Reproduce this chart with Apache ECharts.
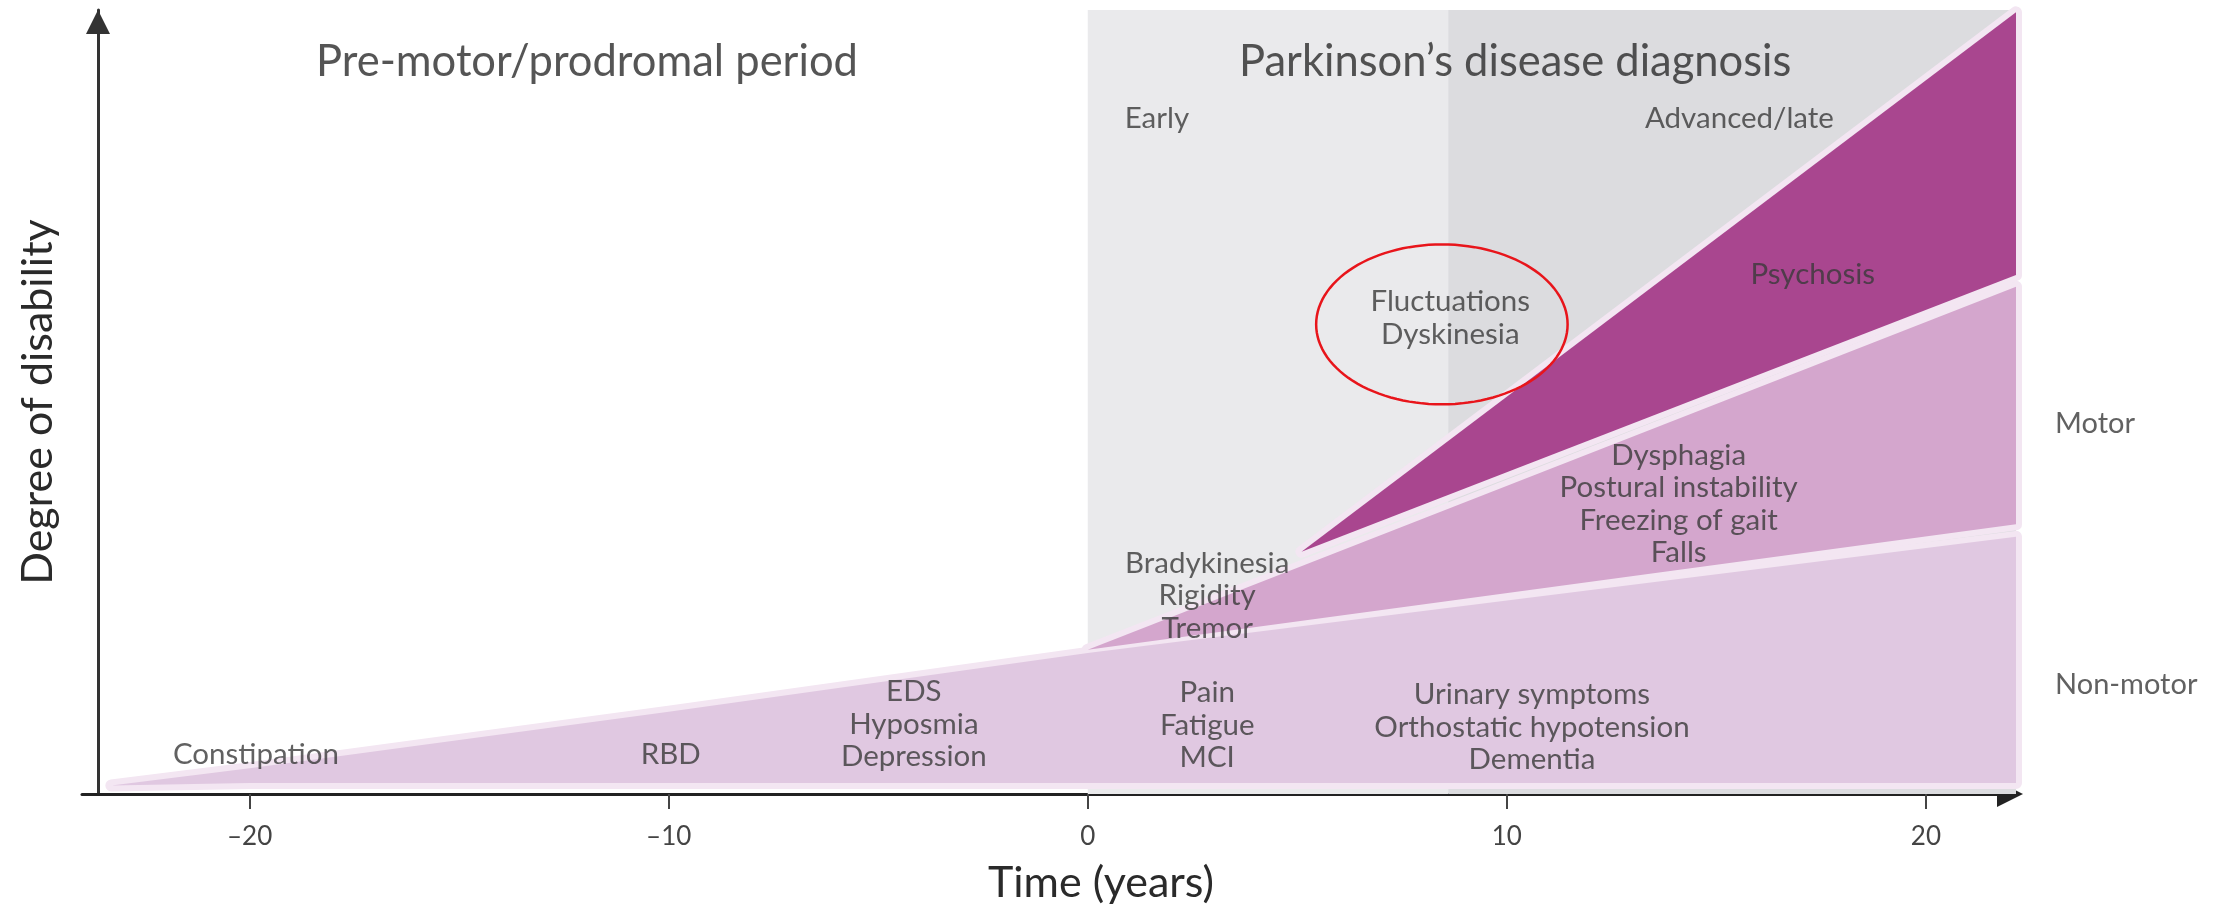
<!DOCTYPE html>
<html>
<head>
<meta charset="utf-8">
<script src="https://cdn.jsdelivr.net/npm/echarts@6/dist/echarts.min.js"></script>
<style>
  html, body { margin: 0; padding: 0; background: #fff; }
  #chart { width: 2224px; height: 911px; }
</style>
</head>
<body>
<div id="chart"></div>
<script>
// x = years from diagnosis, y = degree of disability (0-100)
var tickYears = [-20, -10, 0, 10, 20];

// disease stages shaded behind the bands
var stageNames = ['Early', 'Advanced/late'];
var stageFrom = [0, 8.6];
var stageTo = [8.6, 22.15];

// symptom bands: years with lower and upper edge
var nonMotorYears = [-23.3, -20, -10, 0, 22.15];
var nonMotorLower = [1.1, 1.4, 1.4, 1.4, 1.4];
var nonMotorUpper = [1.1, 3.3, 10.5, 18.0, 32.8];

var motorYears = [0, 22.15];
var motorLower = [18.4, 34.4];
var motorUpper = [18.4, 64.7];

var psychosisYears = [5.1, 22.15];
var psychosisLower = [30.9, 66.2];
var psychosisUpper = [30.9, 99.7];

// text placed on the chart (years, degree)
var headingText = ['Pre-motor/prodromal period', 'Parkinson\u2019s disease diagnosis'];
var headingYear = [-11.95, 10.2];
var headingLevel = [93.4, 93.4];

var symptomText = [
  'Early', 'Advanced/late', 'Fluctuations\nDyskinesia', 'Psychosis',
  'Dysphagia\nPostural instability\nFreezing of gait\nFalls',
  'Bradykinesia\nRigidity\nTremor', 'Pain\nFatigue\nMCI',
  'Urinary symptoms\nOrthostatic hypotension\nDementia',
  'EDS\nHyposmia\nDepression', 'RBD', 'Constipation'
];
var symptomYear = [1.65, 15.55, 8.65, 17.3, 14.1, 2.85, 2.85, 10.6, -4.15, -9.95, -19.85];
var symptomLevel = [86.1, 86.1, 60.7, 66.3, 37.0, 25.3, 8.8, 8.5, 8.9, 5.0, 5.0];

var sideText = ['Motor', 'Non-motor'];
var sideYear = [22.15, 22.15];
var sideLevel = [47.2, 13.9];

// highlighted ring: centre year, centre degree, radius in years, radius in degree
var ring = [8.45, 59.9, 3.0, 10.2];

var bands = [
  { years: nonMotorYears, lower: nonMotorLower, upper: nonMotorUpper, color: '#e0c8e1' },
  { years: motorYears, lower: motorLower, upper: motorUpper, color: '#d4a6cd' },
  { years: psychosisYears, lower: psychosisLower, upper: psychosisUpper, color: '#a9468f' }
];

var FONT = 'Lato, "Open Sans", sans-serif';

function bandPoints(api, b) {
  var pts = [];
  for (var i = 0; i < b.years.length; i++) pts.push(api.coord([b.years[i], b.upper[i]]));
  for (var j = b.years.length - 1; j >= 0; j--) pts.push(api.coord([b.years[j], b.lower[j]]));
  return pts;
}

function labelData(texts, xs, ys) {
  return texts.map(function (t, i) { return { name: t, value: [xs[i], ys[i]] }; });
}

var chart = echarts.init(document.getElementById('chart'));

chart.setOption({
  backgroundColor: '#fff',
  animation: false,
  grid: { left: 82, right: 208, top: 10, bottom: 117 },
  xAxis: {
    type: 'value',
    min: -24,
    max: 22.15,
    splitLine: { show: false },
    axisLine: {
      onZero: false,
      symbol: ['none', 'triangle'],
      symbolSize: [26, 26],
      symbolOffset: [0, -6],
      lineStyle: { color: '#222', width: 3 }
    },
    axisTick: { customValues: tickYears, length: 15, lineStyle: { color: '#444', width: 2 } },
    axisLabel: {
      customValues: tickYears,
      margin: 30,
      fontFamily: FONT,
      fontSize: 26,
      color: '#444',
      formatter: function (v) { return String(v).replace('-', '\u2013'); }
    },
    name: 'Time (years)',
    nameLocation: 'middle',
    nameGap: 68,
    nameTextStyle: { fontFamily: FONT, fontSize: 43, color: '#2a2a2a', padding: [0, 0, 0, 104] }
  },
  yAxis: {
    type: 'value',
    min: 0,
    max: 100,
    offset: -16,
    splitLine: { show: false },
    axisTick: { show: false },
    axisLabel: { show: false },
    axisLine: {
      onZero: false,
      symbol: ['none', 'triangle'],
      symbolSize: [24, 24],
      symbolOffset: [0, -12],
      lineStyle: { color: '#333', width: 3 }
    },
    name: 'Degree of disability',
    nameLocation: 'middle',
    nameRotate: 90,
    nameGap: 38,
    nameTextStyle: { fontFamily: FONT, fontSize: 43, color: '#2a2a2a' }
  },
  series: [
    {
      // stage shading
      type: 'custom',
      silent: true,
      z: 1,
      data: stageNames.map(function (n, i) { return [stageFrom[i], stageTo[i]]; }),
      renderItem: function (params, api) {
        var p0 = api.coord([api.value(0), 100]);
        var p1 = api.coord([api.value(1), 0]);
        return {
          type: 'rect',
          shape: { x: p0[0], y: p0[1], width: p1[0] - p0[0], height: p1[1] - p0[1] },
          style: { fill: params.dataIndex === 0 ? '#eaeaec' : '#dcdcdf' }
        };
      }
    },
    {
      // pale halo round each band
      type: 'custom',
      silent: true,
      z: 2,
      data: bands.map(function (b, i) { return [i]; }),
      renderItem: function (params, api) {
        return {
          type: 'polygon',
          shape: { points: bandPoints(api, bands[params.dataIndex]) },
          style: { fill: '#f3e6f2', stroke: '#f3e6f2', lineWidth: 12, lineJoin: 'round' }
        };
      }
    },
    {
      // band fills
      type: 'custom',
      silent: true,
      z: 3,
      data: bands.map(function (b, i) { return [i]; }),
      renderItem: function (params, api) {
        var b = bands[params.dataIndex];
        return {
          type: 'polygon',
          shape: { points: bandPoints(api, b) },
          style: { fill: b.color }
        };
      }
    },
    {
      // red ring
      type: 'custom',
      silent: true,
      z: 6,
      data: [ring],
      renderItem: function (params, api) {
        var cx = api.value(0), cy = api.value(1), rx = api.value(2), ry = api.value(3);
        var pts = [];
        for (var k = 0; k < 120; k++) {
          var a = k / 120 * Math.PI * 2;
          pts.push(api.coord([cx + rx * Math.cos(a), cy + ry * Math.sin(a)]));
        }
        return {
          type: 'polygon',
          shape: { points: pts },
          style: { fill: 'none', stroke: '#e8151b', lineWidth: 2.5 }
        };
      }
    },
    {
      type: 'scatter',
      silent: true,
      clip: false,
      z: 5,
      symbolSize: 0,
      data: labelData(headingText, headingYear, headingLevel),
      label: {
        show: true, position: 'inside', formatter: '{b}',
        fontFamily: FONT, fontSize: 43.5, color: '#2a2a2a'
      }
    },
    {
      type: 'scatter',
      silent: true,
      clip: false,
      z: 5,
      symbolSize: 0,
      data: labelData(symptomText, symptomYear, symptomLevel),
      label: {
        show: true, position: 'inside', formatter: '{b}', align: 'center',
        fontFamily: FONT, fontSize: 29.5, lineHeight: 32.5, color: '#3a3a3a'
      },
      labelLayout: { hideOverlap: false }
    },
    {
      type: 'scatter',
      silent: true,
      clip: false,
      z: 5,
      symbolSize: 0,
      data: labelData(sideText, sideYear, sideLevel),
      label: {
        show: true, position: 'right', distance: 39, formatter: '{b}',
        fontFamily: FONT, fontSize: 29, color: '#3a3a3a'
      }
    }
  ]
});
</script>
</body>
</html>
